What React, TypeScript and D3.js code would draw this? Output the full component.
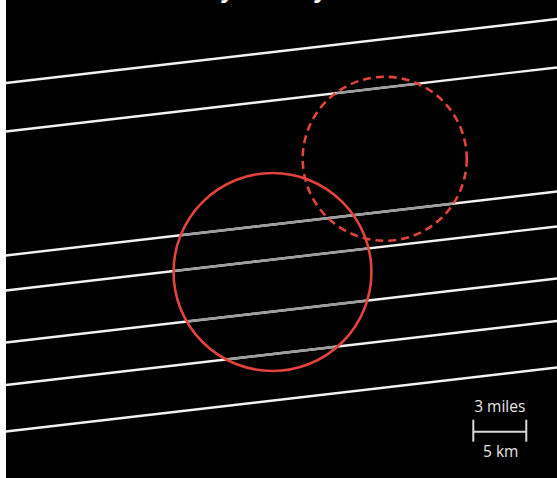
import React from "react";
import * as d3 from "d3";

// Map extent in km
const xDomainKm = [0, 52];
const yDomainKm = [0, 45];

// Flight tracks: north position (km) at west edge and east edge
const trackWest = [37.19, 32.62, 20.95, 17.65, 12.76, 8.75, 4.38];
const trackEast = [43.21, 38.65, 26.97, 23.68, 18.78, 14.78, 10.4];

// Circles: [x km, y km, radius km]
const solidCircle = { x: 25.15, y: 19.39, r: 9.34 };
const dashedCircle = { x: 35.74, y: 30.05, r: 7.74 };

// Scale bar
const scaleBarKm = [44.1, 49.1];
const scaleLabels = ["3 miles", "5 km"];

const W = 557;
const H = 478;

export default function App() {
  const x = d3.scaleLinear().domain(xDomainKm).range([6, W]);
  const y = d3.scaleLinear().domain(yDomainKm).range([H, 0]);
  const k = x(1) - x(0);
  const line = d3.line<[number, number]>().x((d) => x(d[0])).y((d) => y(d[1]));
  const tracks = trackWest.map((w, i) => [
    [xDomainKm[0], w],
    [xDomainKm[1], trackEast[i]],
  ] as [number, number][]);
  const barX0 = x(scaleBarKm[0]);
  const barX1 = x(scaleBarKm[1]);
  const barY = 431.7;
  const red = "#e2443c";
  return (
    <svg
      width={W}
      height={H}
      style={{ position: "absolute", left: 0, top: 0, background: "#fff" }}
    >
      <defs>
        <clipPath id="inCircles">
          <circle cx={x(solidCircle.x)} cy={y(solidCircle.y)} r={solidCircle.r * k} />
          <circle cx={x(dashedCircle.x)} cy={y(dashedCircle.y)} r={dashedCircle.r * k} />
        </clipPath>
      </defs>
      <rect x={6} y={0} width={W - 6} height={H} fill="#000" />
      <text
        y={-2.5}
        fill="#fff"
        fontFamily="'Open Sans', sans-serif"
        fontStyle="italic"
        fontWeight={700}
        fontSize={22}
      >
        <tspan x={223}>y</tspan>
        <tspan x={316}>y</tspan>
      </text>
      {tracks.map((t, i) => (
        <path key={"w" + i} d={line(t) || ""} stroke="#f2f2f2" strokeWidth={2.4} fill="none" />
      ))}
      <g clipPath="url(#inCircles)">
        {tracks.map((t, i) => (
          <path key={"g" + i} d={line(t) || ""} stroke="#9c9c9c" strokeWidth={2.4} fill="none" />
        ))}
      </g>
      <circle
        cx={x(dashedCircle.x)}
        cy={y(dashedCircle.y)}
        r={dashedCircle.r * k}
        fill="none"
        stroke={red}
        strokeWidth={2.6}
        strokeDasharray="8 5"
      />
      <circle
        cx={x(solidCircle.x)}
        cy={y(solidCircle.y)}
        r={solidCircle.r * k}
        fill="none"
        stroke={red}
        strokeWidth={2.6}
      />
      <g stroke="#d8d8d8" strokeWidth={2}>
        <line x1={barX0} x2={barX1} y1={barY} y2={barY} />
        <line x1={barX0} x2={barX0} y1={barY - 12} y2={barY + 10} />
        <line x1={barX1} x2={barX1} y1={barY - 12} y2={barY + 10} />
      </g>
      <text
        x={(barX0 + barX1) / 2}
        y={411.5}
        textAnchor="middle"
        fill="#e6e6e6"
        fontFamily="'Open Sans', sans-serif"
        fontSize={15.5}
      >
        {scaleLabels[0]}
      </text>
      <text
        x={(barX0 + barX1) / 2 + 1}
        y={457}
        textAnchor="middle"
        fill="#e6e6e6"
        fontFamily="'Open Sans', sans-serif"
        fontSize={15.5}
      >
        {scaleLabels[1]}
      </text>
    </svg>
  );
}
